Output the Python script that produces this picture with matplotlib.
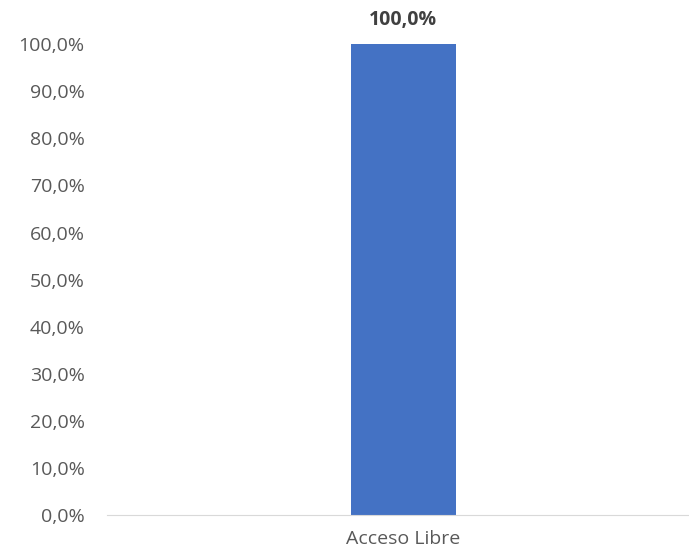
import matplotlib
matplotlib.use("Agg")
from matplotlib import pyplot as plt
from matplotlib.ticker import FuncFormatter

categories = ["Acceso Libre"]
values = [100.0]
yticks = [0, 10, 20, 30, 40, 50, 60, 70, 80, 90, 100]

plt.rcParams['font.family'] = ['Open Sans', 'DejaVu Sans']

fig = plt.figure(figsize=(6.89, 5.53), dpi=100)
ax = fig.add_axes([0.155, 0.0687, 0.86, 0.8513])

ax.bar(range(len(categories)), values, width=0.177, color='#4472C4', zorder=2)
for i, v in enumerate(values):
    ax.annotate(("%.1f%%" % v).replace('.', ','), (i, v), xytext=(0, 10),
                textcoords='offset points', ha='center', va='bottom',
                fontsize=14, fontweight='bold', color='#404040')

ax.set_ylim(0, 100)
ax.set_xlim(-0.5, 0.5)
ax.set_yticks(yticks)
ax.yaxis.set_major_formatter(FuncFormatter(lambda v, p: ("%.1f%%" % v).replace('.', ',')))
ax.set_xticks(range(len(categories)))
ax.set_xticklabels(categories)

for s in ['top', 'right', 'left']:
    ax.spines[s].set_visible(False)
ax.spines['bottom'].set_color('#D9D9D9')
ax.tick_params(axis='both', length=0, labelsize=14, colors='#595959')
ax.tick_params(axis='y', pad=16)
ax.tick_params(axis='x', pad=11)

fig.savefig('out.png', dpi=100)
